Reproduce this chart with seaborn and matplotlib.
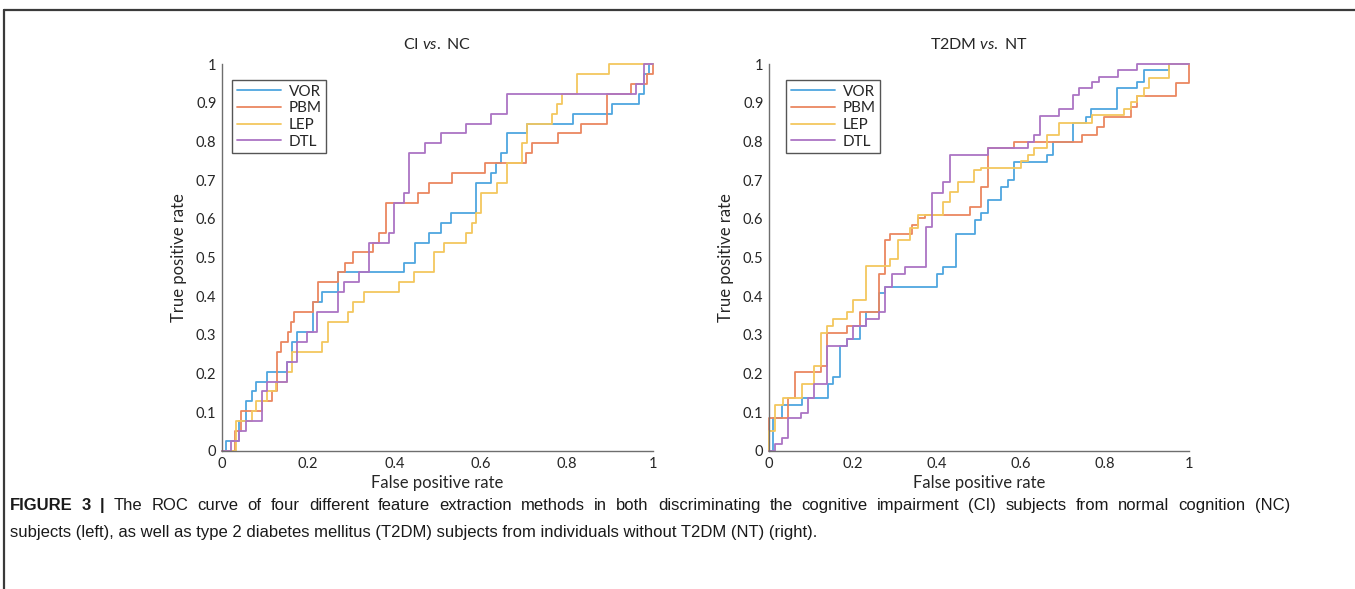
import numpy as np
import pandas as pd
import matplotlib
matplotlib.use('Agg')
import matplotlib.pyplot as plt
import seaborn as sns

# ROC points (false positive rate, true positive rate)
methods = ['VOR', 'PBM', 'LEP', 'DTL']
colors = ['#4ea6df', '#ea8760', '#f3c75e', '#ab74c4']

# CI vs. NC
ci_vor_fpr = [0, 0.009, 0.04, 0.056, 0.07, 0.079, 0.105, 0.151, 0.163, 0.175, 0.21, 0.233, 0.27, 0.423, 0.447,
              0.481, 0.509, 0.532, 0.589, 0.625, 0.636, 0.647, 0.661, 0.707, 0.815, 0.906, 0.968, 0.978, 0.99, 1]
ci_vor_tpr = [0, 0.026, 0.077, 0.128, 0.154, 0.179, 0.205, 0.231, 0.282, 0.308, 0.385, 0.41, 0.462, 0.487, 0.538,
              0.564, 0.59, 0.615, 0.692, 0.718, 0.744, 0.769, 0.821, 0.846, 0.872, 0.897, 0.923, 0.974, 1.0, 1]
ci_pbm_fpr = [0, 0.03, 0.044, 0.093, 0.117, 0.128, 0.138, 0.152, 0.159, 0.167, 0.21, 0.223, 0.27, 0.285, 0.305,
              0.35, 0.365, 0.38, 0.455, 0.481, 0.534, 0.61, 0.705, 0.719, 0.78, 0.832, 0.894, 0.95, 0.985, 1]
ci_pbm_tpr = [0, 0.051, 0.103, 0.128, 0.154, 0.256, 0.282, 0.308, 0.333, 0.359, 0.385, 0.436, 0.462, 0.487, 0.513,
              0.538, 0.564, 0.641, 0.667, 0.692, 0.718, 0.744, 0.769, 0.795, 0.821, 0.846, 0.923, 0.949, 0.974, 1]
ci_lep_fpr = [0, 0.033, 0.07, 0.079, 0.105, 0.126, 0.151, 0.163, 0.233, 0.247, 0.293, 0.305, 0.33, 0.41, 0.445,
              0.493, 0.516, 0.565, 0.579, 0.589, 0.6, 0.637, 0.661, 0.695, 0.707, 0.766, 0.777, 0.789, 0.824, 0.898, 1]
ci_lep_tpr = [0, 0.077, 0.103, 0.128, 0.154, 0.179, 0.205, 0.256, 0.282, 0.333, 0.359, 0.385, 0.41, 0.436, 0.462,
              0.513, 0.538, 0.564, 0.59, 0.615, 0.667, 0.692, 0.744, 0.795, 0.846, 0.872, 0.897, 0.923, 0.974, 1.0, 1]
ci_dtl_fpr = [0, 0.021, 0.04, 0.056, 0.093, 0.105, 0.151, 0.175, 0.198, 0.221, 0.27, 0.282, 0.317, 0.34, 0.388,
              0.399, 0.423, 0.435, 0.47, 0.509, 0.565, 0.625, 0.661, 0.96, 0.978, 1]
ci_dtl_tpr = [0, 0.026, 0.051, 0.077, 0.154, 0.179, 0.231, 0.282, 0.308, 0.359, 0.41, 0.436, 0.462, 0.538, 0.564,
              0.641, 0.667, 0.769, 0.795, 0.821, 0.846, 0.872, 0.923, 0.949, 1.0, 1]

# T2DM vs. NT
dm_vor_fpr = [0, 0.01, 0.032, 0.078, 0.14, 0.153, 0.169, 0.185, 0.216, 0.232, 0.261, 0.277, 0.4, 0.414, 0.446,
              0.49, 0.505, 0.521, 0.552, 0.568, 0.584, 0.662, 0.675, 0.723, 0.754, 0.766, 0.829, 0.877, 0.893, 0.952, 1]
dm_vor_tpr = [0, 0.086, 0.119, 0.138, 0.172, 0.19, 0.272, 0.289, 0.323, 0.358, 0.407, 0.424, 0.457, 0.476, 0.562,
              0.597, 0.614, 0.648, 0.683, 0.7, 0.748, 0.765, 0.799, 0.847, 0.864, 0.885, 0.937, 0.954, 0.984, 1.0, 1]
dm_pbm_fpr = [0, 0, 0.046, 0.062, 0.124, 0.137, 0.185, 0.216, 0.261, 0.277, 0.288, 0.34, 0.355, 0.371, 0.478,
              0.505, 0.521, 0.584, 0.745, 0.78, 0.798, 0.861, 0.877, 0.968, 1]
dm_pbm_tpr = [0, 0.086, 0.138, 0.203, 0.22, 0.306, 0.323, 0.358, 0.457, 0.545, 0.562, 0.584, 0.601, 0.611, 0.631,
              0.683, 0.782, 0.798, 0.816, 0.838, 0.864, 0.89, 0.918, 0.95, 1]
dm_lep_fpr = [0, 0, 0.014, 0.034, 0.078, 0.108, 0.124, 0.137, 0.153, 0.185, 0.2, 0.232, 0.288, 0.307, 0.335,
              0.355, 0.414, 0.43, 0.45, 0.489, 0.505, 0.6, 0.616, 0.632, 0.662, 0.691, 0.77, 0.846, 0.861, 0.877,
              0.893, 0.905, 0.952, 1]
dm_lep_tpr = [0, 0.052, 0.119, 0.138, 0.172, 0.22, 0.306, 0.323, 0.34, 0.358, 0.39, 0.478, 0.495, 0.545, 0.575,
              0.611, 0.644, 0.67, 0.696, 0.726, 0.732, 0.749, 0.765, 0.782, 0.816, 0.847, 0.868, 0.885, 0.903, 0.918,
              0.937, 0.963, 1.0, 1]
dm_dtl_fpr = [0, 0.014, 0.032, 0.046, 0.076, 0.092, 0.108, 0.137, 0.185, 0.2, 0.232, 0.261, 0.277, 0.292, 0.323,
              0.373, 0.387, 0.414, 0.43, 0.522, 0.616, 0.632, 0.646, 0.691, 0.723, 0.739, 0.77, 0.786, 0.831, 0.877, 1]
dm_dtl_tpr = [0, 0.017, 0.034, 0.086, 0.099, 0.138, 0.172, 0.272, 0.289, 0.323, 0.34, 0.358, 0.424, 0.457, 0.476,
              0.58, 0.666, 0.696, 0.765, 0.782, 0.798, 0.816, 0.866, 0.885, 0.92, 0.937, 0.954, 0.967, 0.984, 1.0, 1]

panels = [
    ('CI $\\it{vs.}$ NC', [(ci_vor_fpr, ci_vor_tpr), (ci_pbm_fpr, ci_pbm_tpr),
                          (ci_lep_fpr, ci_lep_tpr), (ci_dtl_fpr, ci_dtl_tpr)]),
    ('T2DM $\\it{vs.}$ NT', [(dm_vor_fpr, dm_vor_tpr), (dm_pbm_fpr, dm_pbm_tpr),
                            (dm_lep_fpr, dm_lep_tpr), (dm_dtl_fpr, dm_dtl_tpr)]),
]

caption_bold = 'FIGURE 3 |'
caption_line1 = ('The ROC curve of four different feature extraction methods in both discriminating the '
                 'cognitive impairment (CI) subjects from normal cognition (NC)')
caption_line2 = ('subjects (left), as well as type 2 diabetes mellitus (T2DM) subjects from individuals '
                 'without T2DM (NT) (right).')

sns.set_style('white')
plt.rcParams['font.family'] = ['Lato', 'DejaVu Sans']
plt.rcParams['mathtext.fontset'] = 'custom'
plt.rcParams['mathtext.rm'] = 'Lato'
plt.rcParams['mathtext.it'] = 'Lato:italic'

W, H = 1355, 589
fig = plt.figure(figsize=(W / 100, H / 100), dpi=100)

# axes boxes in pixels: left, right, top, bottom
boxes = [(222, 653, 64, 451), (769, 1189, 64, 451)]
legend_x = [232, 786]

for (title, curves), (l, r, t, b), lx in zip(panels, boxes, legend_x):
    ax = fig.add_axes([l / W, (H - b) / H, (r - l) / W, (b - t) / H])
    rows = []
    for name, (fpr, tpr) in zip(methods, curves):
        rows.append(pd.DataFrame({'fpr': fpr, 'tpr': tpr, 'method': name}))
    df = pd.concat(rows, ignore_index=True)
    sns.lineplot(data=df, x='fpr', y='tpr', hue='method', palette=colors, sort=False,
                 estimator=None, drawstyle='steps-post', lw=1.3, ax=ax, clip_on=False)

    ax.set_xlim(0, 1)
    ax.set_ylim(0, 1)
    ax.set_xticks(np.arange(0, 1.01, 0.2))
    ax.set_xticklabels(['0', '0.2', '0.4', '0.6', '0.8', '1'])
    ax.set_yticks(np.arange(0, 1.01, 0.1))
    ax.set_yticklabels(['0', '0.1', '0.2', '0.3', '0.4', '0.5', '0.6', '0.7', '0.8', '0.9', '1'])
    for side in ['top', 'right']:
        ax.spines[side].set_visible(False)
    for side in ['left', 'bottom']:
        ax.spines[side].set_color('#6e6e6e')
        ax.spines[side].set_linewidth(1.0)
    ax.tick_params(direction='in', length=4, width=0.9, color='#6e6e6e', labelsize=10.5,
                   labelcolor='#262626', pad=4)
    ax.set_xlabel('False positive rate', fontsize=12, color='#262626', labelpad=3)
    ax.set_ylabel('True positive rate', fontsize=12, color='#262626', labelpad=6)
    ax.set_title(title, fontsize=11.5, color='#262626', pad=11)

    handles, labels = ax.get_legend_handles_labels()
    leg = ax.legend(handles, labels, loc='upper left',
                    bbox_to_anchor=((lx - l) / (r - l), (b - 80) / (b - t)),
                    fontsize=11, frameon=True, fancybox=False, framealpha=1,
                    edgecolor='#555555', handlelength=2.9, handletextpad=0.5,
                    labelspacing=0.18, borderpad=0.3, borderaxespad=0)
    leg.get_frame().set_linewidth(1.0)
    for line in leg.get_lines():
        line.set_linewidth(1.3)

# outer frame of the figure panel
fig.add_artist(plt.Line2D([4 / W, 4 / W], [0, 1 - 10 / H], transform=fig.transFigure,
                          color='#3a3a3a', lw=1.6))
fig.add_artist(plt.Line2D([4 / W, 1], [1 - 10 / H, 1 - 10 / H], transform=fig.transFigure,
                          color='#3a3a3a', lw=1.6))

# caption: first line justified, last line ragged
cap_font = ['Liberation Sans', 'DejaVu Sans']
cap_size = 12
renderer = fig.canvas.get_renderer()
words = [(w, 'bold') for w in caption_bold.split()] + [(w, 'normal') for w in caption_line1.split()]
texts = []
for w, weight in words:
    texts.append(fig.text(0, 1 - 510 / H, w, fontsize=cap_size, fontweight=weight, family=cap_font,
                          va='baseline', ha='left', color='#1a1a1a'))
widths = [tx.get_window_extent(renderer).width for tx in texts]
x0, x1 = 10, 1290
gap = (x1 - x0 - sum(widths)) / (len(texts) - 1)
x = x0
for tx, wd in zip(texts, widths):
    tx.set_x(x / W)
    x += wd + gap
fig.text(x0 / W, 1 - 537 / H, caption_line2, fontsize=cap_size, family=cap_font,
         va='baseline', ha='left', color='#1a1a1a')

fig.savefig('out.png', dpi=100)
